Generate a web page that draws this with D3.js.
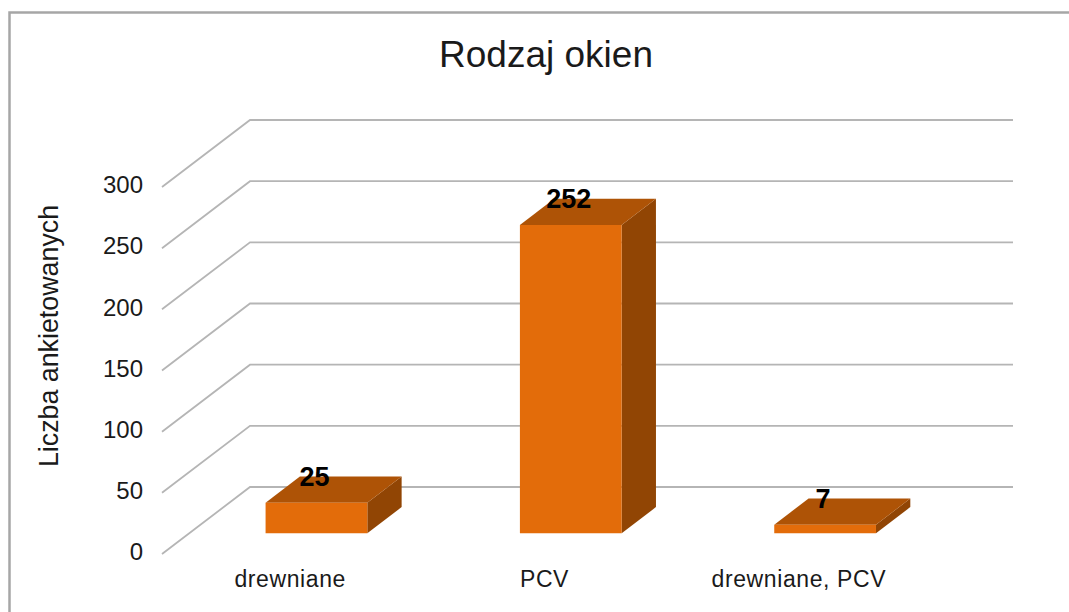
<!DOCTYPE html>
<html>
<head>
<meta charset="utf-8">
<title>Rodzaj okien</title>
<script src="https://cdn.jsdelivr.net/npm/d3@7"></script>
<style>
  html, body { margin: 0; padding: 0; background: #fff; }
  svg { display: block; }
  text { font-family: "Liberation Sans", Arial, sans-serif; fill: #1a1a1a; }
  .axis path, .axis line { display: none; }
</style>
</head>
<body>
<div id="chart"></div>
<script>
// Data
const categories = ['drewniane', 'PCV', 'drewniane, PCV']
const values = [25, 252, 7]
const yTicks = [0, 50, 100, 150, 200, 250, 300]

const width = 1069
const height = 612

const svg = d3.select('#chart')
  .append('svg')
  .attr('width', width)
  .attr('height', height)

// Scales - x and y work on the front plane of the 3d box, depth pushes things back
const xScale = d3.scaleBand()
  .domain(categories)
  .range([162, 925])
  .paddingInner(0.6)
  .paddingOuter(0.3)

const labelScale = d3.scaleBand()
  .domain(categories)
  .range([162, 925])

const yScale = d3.scaleLinear()
  .domain([0, 300])
  .range([554, 187])

const depthX = d3.scaleLinear().domain([0, 1]).range([0, 88])
const depthY = d3.scaleLinear().domain([0, 1]).range([0, -67])
const barDepth = [0.31, 0.7]

// point in 3d -> screen
const project = (x, v, z) => [x + depthX(z), yScale(v) + depthY(z)]
const line = d3.line()

// Frame
svg.append('path')
  .attr('d', line([[9.5, height], [9.5, 12.5], [width, 12.5]]))
  .attr('fill', 'none')
  .attr('stroke', '#a6a6a6')
  .attr('stroke-width', 2.5)

// Title
svg.append('text')
  .text('Rodzaj okien')
  .attr('x', 546)
  .attr('y', 67)
  .attr('text-anchor', 'middle')
  .attr('font-size', 37)

// Gridlines, side wall and back wall
svg.append('g')
  .selectAll('path')
  .data(yTicks)
  .enter()
  .append('path')
  .attr('d', d => line([project(162, d, 0), project(162, d, 1), project(925, d, 1)]))
  .attr('fill', 'none')
  .attr('stroke', '#b5b5b5')
  .attr('stroke-width', 1.8)

// Axes
const yAxis = d3.axisLeft(yScale)
  .tickValues(yTicks)
  .tickSize(0)
  .tickPadding(0)

svg.append('g')
  .attr('class', 'axis')
  .attr('transform', 'translate(143, -2)')
  .call(yAxis)
  .selectAll('text')
  .style('font-size', '24px')
  .style('font-family', '"Liberation Sans", Arial, sans-serif')
  .attr('fill', '#1a1a1a')

const xAxis = d3.axisBottom(labelScale)
  .tickSize(0)
  .tickPadding(0)

svg.append('g')
  .attr('class', 'axis')
  .attr('transform', 'translate(1, 571)')
  .call(xAxis)
  .selectAll('text')
  .style('font-size', '23px')
  .style('letter-spacing', '0.6px')
  .style('font-family', '"Liberation Sans", Arial, sans-serif')
  .attr('fill', '#1a1a1a')

// Axis label
svg.append('text')
  .text('Liczba ankietowanych')
  .attr('transform', 'translate(58, 336) rotate(-90)')
  .attr('text-anchor', 'middle')
  .attr('font-size', 26.8)

// Bars
const bars = svg.selectAll('.bar')
  .data(categories.map((c, i) => ({ category: c, value: values[i] })))
  .enter()
  .append('g')
  .attr('class', 'bar')

const x0 = d => xScale(d.category)
const x1 = d => xScale(d.category) + xScale.bandwidth()

// right side
bars.append('path')
  .attr('d', d => line([
    project(x1(d), 0, barDepth[0]),
    project(x1(d), 0, barDepth[1]),
    project(x1(d), d.value, barDepth[1]),
    project(x1(d), d.value, barDepth[0])
  ]) + 'Z')
  .attr('fill', '#914504')

// top
bars.append('path')
  .attr('d', d => line([
    project(x0(d), d.value, barDepth[0]),
    project(x0(d), d.value, barDepth[1]),
    project(x1(d), d.value, barDepth[1]),
    project(x1(d), d.value, barDepth[0])
  ]) + 'Z')
  .attr('fill', '#ae5306')

// front
bars.append('path')
  .attr('d', d => line([
    project(x0(d), 0, barDepth[0]),
    project(x0(d), d.value, barDepth[0]),
    project(x1(d), d.value, barDepth[0]),
    project(x1(d), 0, barDepth[0])
  ]) + 'Z')
  .attr('fill', '#e36c0a')

// Data labels
bars.append('text')
  .text(d => d.value)
  .attr('x', d => project((x0(d) + x1(d)) / 2, d.value, barDepth[0])[0] - 2)
  .attr('y', d => project(x0(d), d.value, barDepth[0])[1] - 17)
  .attr('text-anchor', 'middle')
  .attr('font-size', 27)
  .attr('font-weight', 'bold')
  .style('fill', '#000')
</script>
</body>
</html>
